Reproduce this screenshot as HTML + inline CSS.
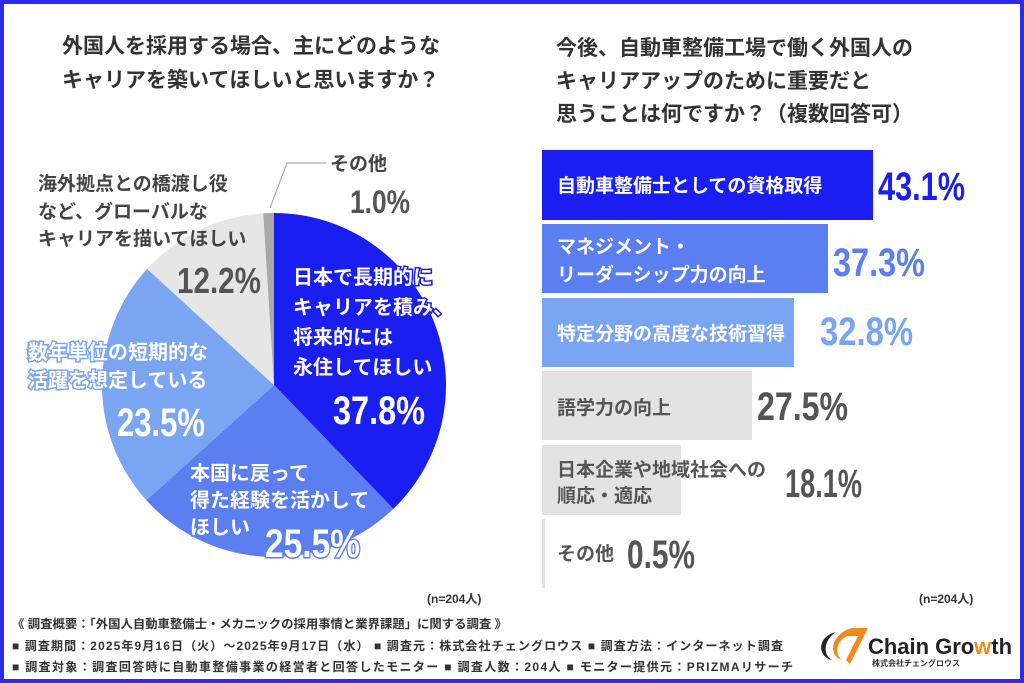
<!DOCTYPE html>
<html><head><meta charset="utf-8"><style>
html,body{margin:0;padding:0;background:#fff}
svg{display:block}
text{font-family:"Liberation Sans","Noto Sans CJK JP",sans-serif;font-weight:bold}
.n{font-family:"Liberation Sans","Noto Sans CJK JP",sans-serif;font-weight:bold}
</style></head><body>
<svg width="1024" height="683" viewBox="0 0 1024 683" xmlns="http://www.w3.org/2000/svg">
<rect x="0" y="0" width="1024" height="683" fill="#fff"/>
<rect x="2" y="2" width="1020" height="679" fill="none" stroke="#2b2bef" stroke-width="4"/>

<g fill="#333" font-size="21">
<text x="62" y="53">外国人を採用する場合、主にどのような</text>
<text x="62" y="87">キャリアを築いてほしいと思いますか？</text>
<text x="556" y="55">今後、自動車整備工場で働く外国人の</text>
<text x="556" y="88">キャリアアップのために重要だと</text>
<text x="556" y="121">思うことは何ですか？（複数回答可）</text>
</g>

<path d="M274,385 L274,213 A172,172 0 0 1 393.3,508.9 Z" fill="#1a1ef0"/>
<path d="M274,385 L393.3,508.9 A172,172 0 0 1 146.4,500.3 Z" fill="#5b7ef0"/>
<path d="M274,385 L146.4,500.3 A172,172 0 0 1 147.1,268.9 Z" fill="#7aa5f2"/>
<path d="M274,385 L147.1,268.9 A172,172 0 0 1 263.2,213.3 Z" fill="#e6e6e6"/>
<path d="M274,385 L263.2,213.3 A172,172 0 0 1 274,213 Z" fill="#a9a9a9"/>
<polyline points="270,208 287,163 326,163" fill="none" stroke="#999" stroke-width="1"/>

<g fill="#444" font-size="19">
<text x="330" y="170">その他</text>
<text x="38" y="190">海外拠点との橋渡し役</text>
<text x="38" y="218">など、グローバルな</text>
<text x="38" y="245">キャリアを描いてほしい</text>
</g>
<text class="n" x="350" y="213" font-size="32" fill="#555" textLength="60" lengthAdjust="spacingAndGlyphs">1.0%</text>
<text class="n" x="177" y="293" font-size="36" fill="#555" textLength="84" lengthAdjust="spacingAndGlyphs">12.2%</text>

<g fill="#fff" font-size="20" stroke="#1a1ef0" stroke-width="3" paint-order="stroke">
<text x="293" y="284">日本で長期的に</text>
<text x="293" y="314">キャリアを積み、</text>
<text x="293" y="344">将来的には</text>
<text x="293" y="374">永住してほしい</text>
</g>
<text class="n" x="333" y="424" font-size="40" fill="#fff" textLength="92" lengthAdjust="spacingAndGlyphs">37.8%</text>

<g fill="#fff" font-size="20" stroke="#7aa5f2" stroke-width="3" paint-order="stroke">
<text x="28" y="359">数年単位の短期的な</text>
<text x="28" y="387">活躍を想定している</text>
</g>
<text class="n" x="117" y="436" font-size="40" fill="#fff" textLength="88" lengthAdjust="spacingAndGlyphs">23.5%</text>

<g fill="#fff" font-size="20" stroke="#5b7ef0" stroke-width="3" paint-order="stroke">
<text x="190" y="480">本国に戻って</text>
<text x="190" y="507">得た経験を活かして</text>
<text x="190" y="534">ほしい</text>
<text class="n" x="265" y="557" font-size="40" textLength="95" lengthAdjust="spacingAndGlyphs">25.5%</text>
</g>

<rect x="542" y="150" width="331" height="70" fill="#1a1ef0"/>
<rect x="542" y="224" width="286" height="69" fill="#5b7ef0"/>
<rect x="542" y="298" width="252" height="69" fill="#7aa5f2"/>
<rect x="542" y="371" width="210" height="69" fill="#e3e3e3"/>
<rect x="542" y="445" width="139" height="70" fill="#e3e3e3"/>
<rect x="542" y="519" width="3" height="69" fill="#e3e3e3"/>

<g font-size="19">
<text x="557" y="192" fill="#fff">自動車整備士としての資格取得</text>
<text x="557" y="253" fill="#fff">マネジメント・</text>
<text x="557" y="281" fill="#fff">リーダーシップ力の向上</text>
<text x="557" y="340" fill="#fff">特定分野の高度な技術習得</text>
<text x="557" y="414" fill="#555">語学力の向上</text>
<text x="557" y="476" fill="#555">日本企業や地域社会への</text>
<text x="557" y="502" fill="#555">順応・適応</text>
<text x="557" y="560" fill="#555">その他</text>
</g>
<text class="n" x="878" y="200" font-size="40" fill="#1a1ef0" textLength="87" lengthAdjust="spacingAndGlyphs">43.1%</text>
<text class="n" x="833" y="276" font-size="40" fill="#5b7ef0" textLength="92" lengthAdjust="spacingAndGlyphs">37.3%</text>
<text class="n" x="820" y="345" font-size="40" fill="#7aa5f2" textLength="93" lengthAdjust="spacingAndGlyphs">32.8%</text>
<text class="n" x="757" y="420" font-size="40" fill="#555" textLength="91" lengthAdjust="spacingAndGlyphs">27.5%</text>
<text class="n" x="785" y="497" font-size="40" fill="#555" textLength="77" lengthAdjust="spacingAndGlyphs">18.1%</text>
<text class="n" x="627" y="568" font-size="40" fill="#555" textLength="68" lengthAdjust="spacingAndGlyphs">0.5%</text>

<g fill="#333" font-size="12" font-weight="normal">
<text x="427" y="603">(n=204人)</text>
<text x="919" y="603">(n=204人)</text>
<text x="12" y="628" textLength="495" lengthAdjust="spacingAndGlyphs">《 調査概要：「外国人自動車整備士・メカニックの採用事情と業界課題」に関する調査 》</text>
<text x="12" y="650" textLength="771" lengthAdjust="spacing">■ 調査期間：2025年9月16日（火）～2025年9月17日（水）   ■ 調査元：株式会社チェングロウス    ■ 調査方法：インターネット調査</text>
<text x="12" y="671" textLength="781" lengthAdjust="spacing">■ 調査対象：調査回答時に自動車整備事業の経営者と回答したモニター    ■ 調査人数：204人        ■ モニター提供元：PRIZMAリサーチ</text>
</g>

<path d="M836,632 C818,636 816,656 832,660 C822,654 824,640 836,632 Z" fill="#222"/>
<path d="M852,628 L868,628 L850,664 L846,660 L858,636 L848,636 C836,640 834,654 842,660 C828,656 830,634 852,628 Z" fill="#f08a1c"/>
<text x="868" y="654" font-size="22" fill="#222" textLength="144" lengthAdjust="spacingAndGlyphs">Chain Gro<tspan fill="#f08a1c">w</tspan>th</text>
<text x="872" y="666" font-size="8" fill="#333">株式会社チェングロウス</text>
</svg>
</body></html>
